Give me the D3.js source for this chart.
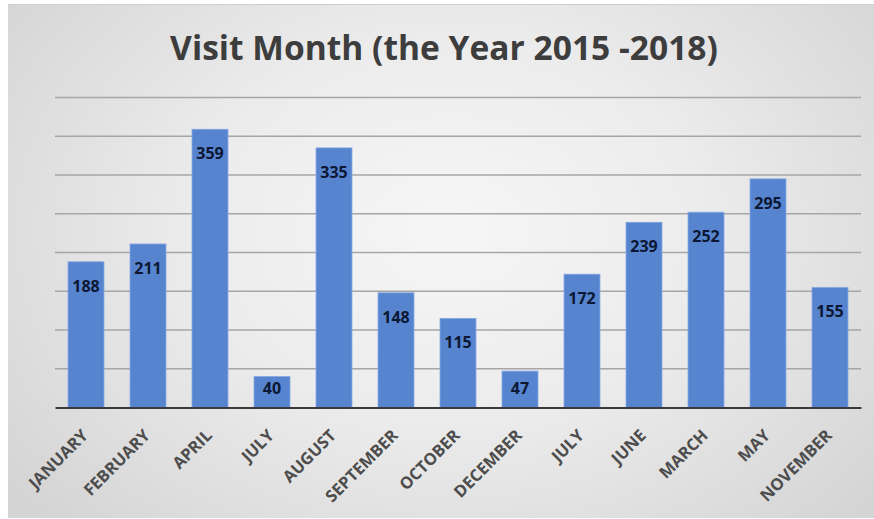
<!DOCTYPE html>
<html>
<head>
<meta charset="utf-8">
<script src="https://cdn.jsdelivr.net/npm/d3@7"></script>
<style>
  html, body { margin: 0; padding: 0; background: #ffffff; }
  svg { display: block; }
</style>
</head>
<body>
<svg id="chart" width="874" height="519"></svg>
<script>
// Visits per month label, in the order they appear on the axis
const months = ["JANUARY", "FEBRUARY", "APRIL", "JULY", "AUGUST", "SEPTEMBER",
                "OCTOBER", "DECEMBER", "JULY", "JUNE", "MARCH", "MAY", "NOVEMBER"];
const visits = [188, 211, 359, 40, 335, 148, 115, 47, 172, 239, 252, 295, 155];
const gridValues = [0, 50, 100, 150, 200, 250, 300, 350, 400];
const chartTitle = "Visit Month (the Year 2015 -2018)";

const W = 874, H = 519;
const frame = { x: 8, y: 4, w: W - 8, h: H - 5 };
const plot = { left: 55, right: 861, top: 97.5, bottom: 407.5 };

const svg = d3.select("#chart");
const defs = svg.append("defs");

// soft grey panel, lighter towards the middle
const rg = defs.append("radialGradient")
  .attr("id", "panelFill")
  .attr("gradientUnits", "userSpaceOnUse")
  .attr("cx", 450).attr("cy", 230).attr("r", 560)
  .attr("gradientTransform", "translate(450,230) scale(1,0.75) translate(-450,-230)");
rg.append("stop").attr("offset", "0%").attr("stop-color", "#f6f6f6");
rg.append("stop").attr("offset", "45%").attr("stop-color", "#ececec");
rg.append("stop").attr("offset", "100%").attr("stop-color", "#d4d4d4");

svg.append("rect")
  .attr("x", frame.x).attr("y", frame.y)
  .attr("width", frame.w).attr("height", frame.h)
  .attr("fill", "url(#panelFill)");
svg.append("line")
  .attr("x1", frame.x).attr("x2", W)
  .attr("y1", frame.y + 0.5).attr("y2", frame.y + 0.5)
  .attr("stroke", "#cfcfcf").attr("stroke-width", 1);

const x = d3.scaleBand()
  .domain(d3.range(months.length))
  .range([plot.left, plot.right])
  .paddingInner(0.42)
  .paddingOuter(0.21);

const y = d3.scaleLinear()
  .domain([0, 400])
  .range([plot.bottom, plot.top]);

// horizontal gridlines
svg.append("g")
  .selectAll("line")
  .data(gridValues.slice(1))
  .join("line")
  .attr("x1", plot.left).attr("x2", plot.right)
  .attr("y1", d => y(d)).attr("y2", d => y(d))
  .attr("stroke", "#a6a6a6")
  .attr("stroke-width", 1.4);

// bars
svg.append("g")
  .selectAll("rect")
  .data(visits)
  .join("rect")
  .attr("x", (d, i) => x(i))
  .attr("width", x.bandwidth())
  .attr("y", d => y(d))
  .attr("height", d => y(0) - y(d))
  .attr("fill", "#5784cf")
  .attr("stroke", "#86a8e2")
  .attr("stroke-width", 0.8);

// value labels just inside the top of each bar
svg.append("g")
  .selectAll("text")
  .data(visits)
  .join("text")
  .attr("x", (d, i) => x(i) + x.bandwidth() / 2)
  .attr("y", d => Math.min(y(d) + 24, y(0) - 19))
  .attr("dy", "0.36em")
  .attr("text-anchor", "middle")
  .attr("font-family", "'Open Sans', sans-serif")
  .attr("font-weight", 700)
  .attr("font-size", 16)
  .attr("fill", "#0c1833")
  .text(d => d);

// category axis
const xAxis = d3.axisBottom(x)
  .tickSize(0)
  .tickFormat(i => months[i]);

const gx = svg.append("g")
  .attr("transform", `translate(0,${plot.bottom})`)
  .call(xAxis);
gx.select(".domain")
  .attr("stroke", "#3a3a3a")
  .attr("stroke-width", 2.2);
gx.selectAll(".tick text")
  .attr("font-family", "'Open Sans', sans-serif")
  .attr("font-weight", 700)
  .attr("font-size", 16.5)
  .attr("fill", "#4d4d4d")
  .attr("text-anchor", "end")
  .attr("x", 0).attr("y", 0).attr("dy", 0)
  .attr("transform", "translate(3,29) rotate(-45)");

// title
const title = svg.append("text")
  .attr("x", 444)
  .attr("y", 60)
  .attr("text-anchor", "middle")
  .attr("font-family", "'Open Sans', sans-serif")
  .attr("font-weight", 700)
  .attr("font-size", 32)
  .attr("fill", "#3d3d3d")
  .text(chartTitle);
const tl = title.node().getComputedTextLength();
title.attr("font-size", 32 * 548 / tl);
</script>
</body>
</html>
